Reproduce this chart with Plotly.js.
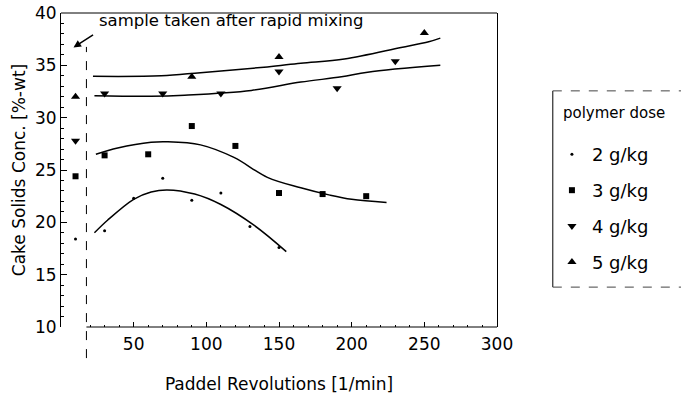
<!DOCTYPE html>
<html>
<head>
<meta charset="utf-8">
<script src="https://cdn.plot.ly/plotly-3.0.1.min.js"></script>
<style>html,body{margin:0;padding:0;background:#fff;}#chart{width:681px;height:396px;}</style>
</head>
<body>
<div id="chart"></div>
<script>
// measured points
const dose2X = [10, 30, 50, 70, 90, 110, 130, 150];
const dose2Y = [18.4, 19.2, 22.3, 24.2, 22.1, 22.8, 19.6, 17.6];
const dose3X = [10, 30, 60, 90, 120, 150, 180, 210];
const dose3Y = [24.4, 26.4, 26.5, 29.2, 27.3, 22.8, 22.7, 22.5];
const dose4X = [10, 30, 70, 110, 150, 190, 230];
const dose4Y = [27.8, 32.3, 32.3, 32.3, 34.4, 32.8, 35.4];
const dose5X = [10, 90, 150, 250];
const dose5Y = [32.0, 33.9, 35.8, 38.1];

// hand-drawn fit curves
const fit2X = [23, 32, 50, 62, 73, 92, 110, 133, 155];
const fit2Y = [19.0, 20.2, 22.2, 22.9, 23.1, 22.7, 21.7, 19.7, 17.2];
const fit3X = [24, 39, 62, 73, 96, 119, 142, 165, 185, 200, 224];
const fit3Y = [26.5, 27.1, 27.65, 27.7, 27.4, 26.2, 24.3, 23.3, 22.6, 22.2, 21.9];
const fit4X = [23, 62, 85, 131, 165, 193, 211, 261];
const fit4Y = [32.1, 32.05, 32.15, 32.6, 33.4, 33.9, 34.35, 35.0];
const fit5X = [22, 69, 96, 142, 165, 195, 234, 253, 261];
const fit5Y = [33.95, 34.0, 34.3, 34.85, 35.2, 35.6, 36.7, 37.25, 37.6];

const seriesNames = ['2 g/kg', '3 g/kg', '4 g/kg', '5 g/kg'];
const legendTitle = 'polymer dose';
const xTickVals = [50, 100, 150, 200, 250, 300];
const xMinorVals = [20, 30, 40, 60, 70, 80, 90, 110, 120, 130, 140, 160, 170, 180, 190, 210, 220, 230, 240, 260, 270, 280, 290];
const yTickVals = [10, 15, 20, 25, 30, 35, 40];
const sampleX = 17.5;

const FONT = 'DejaVu Sans, Liberation Sans, Arial, sans-serif';

function pts(x, y, name, symbol, size, g) {
  return {x: x, y: y, name: name, type: 'scatter', mode: 'markers', legendgroup: g,
    marker: {symbol: symbol, size: size, color: '#000'}, cliponaxis: false};
}
function fit(x, y) {
  return {x: x, y: y, type: 'scatter', mode: 'lines', showlegend: false, hoverinfo: 'skip',
    line: {shape: 'spline', smoothing: 1, color: '#000', width: 1.5}};
}

const data = [
  fit(fit2X, fit2Y), fit(fit3X, fit3Y), fit(fit4X, fit4Y), fit(fit5X, fit5Y),
  pts(dose2X, dose2Y, seriesNames[0], 'circle', 3, 'a'),
  pts(dose3X, dose3Y, seriesNames[1], 'square', 6, 'b'),
  pts(dose4X, dose4Y, seriesNames[2], 'triangle-down', 8, 'c'),
  pts(dose5X, dose5Y, seriesNames[3], 'triangle-up', 8, 'd')
];

const layout = {
  width: 681, height: 396,
  margin: {l: 61, r: 184, t: 13, b: 69, autoexpand: false},
  paper_bgcolor: '#fff', plot_bgcolor: '#fff',
  font: {family: FONT, color: '#000', size: 17},
  showlegend: true,
  legend: {
    x: 1.126, xanchor: 'left', y: 0.608, yanchor: 'top',
    bgcolor: 'rgba(0,0,0,0)', borderwidth: 0,
    font: {family: FONT, size: 18, color: '#000'},
    tracegroupgap: 9.5, itemsizing: 'trace'
  },
  xaxis: {
    range: [0, 300], showline: false, zeroline: false, showgrid: false,
    tickvals: xTickVals, ticks: 'inside', ticklen: 5, tickcolor: '#000',
    minor: {tickvals: xMinorVals, ticks: 'inside', ticklen: 2, tickcolor: '#000'},
    ticklabelstandoff: 5,
    tickfont: {family: FONT, size: 17},
    title: {text: 'Paddel Revolutions [1/min]', font: {family: FONT, size: 17}, standoff: 25}
  },
  yaxis: {
    range: [10, 40], showline: true, mirror: true, linecolor: '#000', linewidth: 1,
    zeroline: false, showgrid: false,
    tickvals: yTickVals, ticks: 'inside', ticklen: 6, tickcolor: '#000',
    minor: {dtick: 1, ticks: 'inside', ticklen: 3, tickcolor: '#000'},
    tickfont: {family: FONT, size: 17},
    title: {text: 'Cake Solids Conc. [%-wt]', font: {family: FONT, size: 17}, standoff: 5}
  },
  shapes: [
    {type: 'line', xref: 'x', yref: 'paper', x0: sampleX, x1: sampleX, y0: -0.099, y1: 0.892,
     line: {color: '#000', width: 1, dash: 'dash'}},
    {type: 'line', xref: 'x', yref: 'paper', x0: sampleX, x1: 300, y0: 0, y1: 0,
     line: {color: '#000', width: 1}},
    {type: 'line', xref: 'x', yref: 'paper', x0: 0, x1: 300, y0: 1, y1: 1,
     line: {color: '#000', width: 1}},
    {type: 'line', xref: 'paper', yref: 'paper', x0: 1.128, x1: 1.128, y0: 0.127, y1: 0.752,
     line: {color: '#000', width: 1}},
    {type: 'line', xref: 'paper', yref: 'paper', x0: 1.128, x1: 1.45, y0: 0.752, y1: 0.752,
     line: {color: '#444', width: 1, dash: 'dash'}},
    {type: 'line', xref: 'paper', yref: 'paper', x0: 1.128, x1: 1.45, y0: 0.127, y1: 0.127,
     line: {color: '#444', width: 1, dash: 'dash'}}
  ],
  annotations: [
    {text: 'sample taken after rapid mixing', xref: 'x', yref: 'y', x: 25, y: 39.3,
     xanchor: 'left', yanchor: 'middle', showarrow: false,
     font: {family: FONT, size: 16.5, color: '#000'}},
    {text: '', xref: 'x', yref: 'y', x: 8.6, y: 36.7, axref: 'x', ayref: 'y', ax: 23.1, ay: 38.0,
     showarrow: true, arrowhead: 2, arrowsize: 1, arrowwidth: 1.5, arrowcolor: '#000', standoff: 0},
    {text: legendTitle, xref: 'paper', yref: 'paper', x: 1.146, y: 0.68,
     xanchor: 'left', yanchor: 'middle', showarrow: false,
     font: {family: FONT, size: 15, color: '#000'}}
  ]
};

Plotly.newPlot('chart', data, layout, {displayModeBar: false, staticPlot: true});
</script>
</body>
</html>
